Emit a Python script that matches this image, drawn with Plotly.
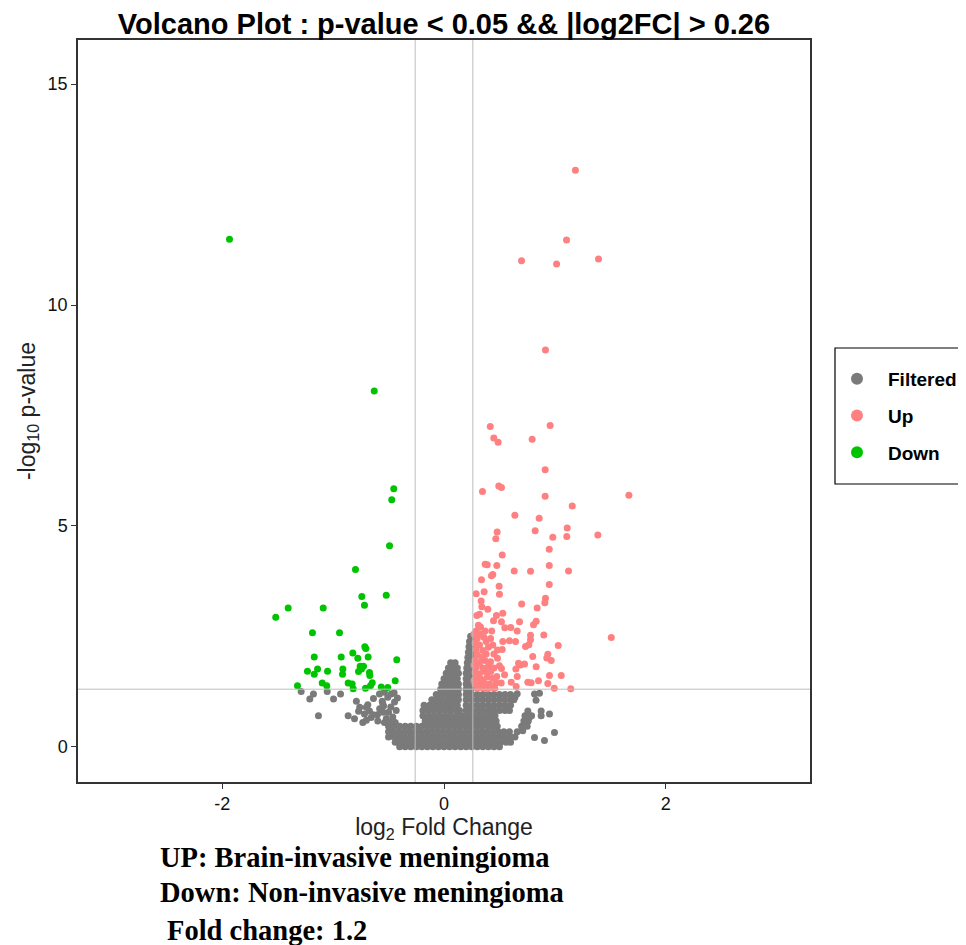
import plotly.graph_objects as go

# ---------------- data ----------------
# Down-regulated (green)
down_x = [-1.934, -0.629, -0.453, -0.471, -0.491, -0.798, -0.741, -0.521, -0.717, -1.517,
          -1.405, -1.089, -1.186, -0.942, -0.714, -0.705, -1.170, -0.927, -0.822, -0.777,
          -0.684, -0.426, -1.140, -1.231, -1.170, -1.050, -0.912, -0.915, -0.756, -0.726,
          -0.744, -0.771, -0.672, -0.669, -0.440, -1.321, -1.098, -1.057, -0.864, -0.828,
          -0.819, -0.708, -0.647, -0.663, -0.566, -0.507]
down_y = [11.49, 8.05, 5.84, 5.59, 4.55, 4.01, 3.40, 3.43, 3.20, 2.93,
          3.14, 3.14, 2.58, 2.58, 2.26, 2.22, 2.03, 2.03, 2.12, 2.00,
          2.03, 1.97, 1.76, 1.71, 1.64, 1.71, 1.76, 1.64, 1.82, 1.82,
          1.76, 1.70, 1.68, 1.61, 1.49, 1.38, 1.44, 1.38, 1.44, 1.42,
          1.31, 1.32, 1.45, 1.38, 1.35, 1.34]

# Up-regulated (red)
up_x = [1.185, 1.105, 0.699, 1.015, 1.393, 0.915, 0.417, 0.957, 0.449, 0.488,
        0.795, 0.912, 0.347, 0.494, 0.518, 0.912, 1.667, 1.156, 0.639, 0.858,
        0.479, 0.822, 1.111, 0.467, 0.981, 1.107, 1.387, 0.949, 0.525, 0.371,
        0.390, 0.476, 0.949, 0.633, 0.780, 1.123, 0.440, 0.428, 0.338, 0.949,
        0.497, 0.290, 0.362, 0.500, 0.915, 0.909, 0.335, 0.700, 0.341, 0.395,
        0.840, 0.530, 0.473, 0.296, 0.320, 0.446, 0.518, 0.681, 0.831, 0.807,
        0.329, 0.548, 0.602, 0.660, 0.900, 0.780, 0.780, 0.765, 0.735, 1.508,
        1.030, 0.530, 0.590, 0.645, 0.525, 0.482, 0.800, 0.936, 0.927, 0.967,
        0.482, 0.672, 0.690, 0.726, 0.500, 0.518, 0.831, 0.648, 0.422, 0.546,
        0.660, 0.951, 1.057, 0.476, 0.606, 0.756, 0.786, 0.852, 0.936, 0.651,
        0.435, 0.458, 0.516, 0.994, 1.143,
        0.29, 0.33, 0.30, 0.36, 0.28, 0.32, 0.38, 0.42, 0.29, 0.35,
        0.40, 0.44, 0.30, 0.34, 0.38, 0.45, 0.28, 0.32, 0.37, 0.42,
        0.29, 0.35, 0.40, 0.45, 0.28, 0.32, 0.37, 0.30, 0.34, 0.39,
        0.44, 0.28, 0.32, 0.36, 0.41, 0.30, 0.35, 0.39, 0.47, 0.31,
        0.37, 0.43, 0.27, 0.27, 0.27]
up_y = [13.05, 11.47, 11.00, 10.93, 11.04, 8.98, 7.25, 7.27, 6.99, 6.89,
        6.96, 6.27, 5.78, 5.90, 5.87, 5.67, 5.69, 5.45, 5.24, 5.17,
        4.86, 4.89, 4.95, 4.71, 4.74, 4.76, 4.79, 4.47, 4.34, 4.13,
        4.12, 4.10, 4.10, 3.98, 3.97, 3.98, 3.90, 3.87, 3.78, 3.67,
        3.63, 3.46, 3.51, 3.45, 3.36, 3.26, 3.30, 3.23, 3.17, 3.11,
        3.14, 3.02, 2.97, 2.97, 3.00, 2.85, 2.83, 2.83, 2.84, 2.76,
        2.71, 2.69, 2.70, 2.62, 2.53, 2.52, 2.42, 2.31, 2.27, 2.47,
        2.29, 2.38, 2.40, 2.38, 2.20, 2.19, 2.04, 2.09, 2.01, 1.95,
        2.00, 1.89, 1.85, 1.87, 1.83, 1.77, 1.81, 1.76, 1.70, 1.63,
        1.59, 1.61, 1.61, 1.59, 1.46, 1.46, 1.45, 1.49, 1.43, 1.36,
        1.34, 1.32, 1.44, 1.32, 1.31,
        2.62, 2.55, 2.45, 2.48, 2.35, 2.30, 2.38, 2.45, 2.20, 2.18,
        2.25, 2.30, 2.08, 2.02, 2.10, 2.10, 1.95, 1.90, 1.95, 1.92,
        1.80, 1.78, 1.82, 1.78, 1.68, 1.65, 1.70, 1.55, 1.52, 1.58,
        1.55, 1.42, 1.40, 1.45, 1.42, 1.32, 1.33, 1.31, 1.45, 2.75,
        2.62, 2.62, 2.55, 1.85, 1.50]

# Filtered (grey) - the dense central cloud, read row by row (y level, x positions)
filtered_rows = [
    (0.00, [-0.40, -0.35, -0.30, -0.25, -0.20, -0.15, -0.10, -0.05, 0.00, 0.05, 0.10, 0.15,
            0.20, 0.25, 0.30, 0.35, 0.40, 0.45, 0.50]),
    (0.10, [-0.44, -0.39, -0.34, -0.29, -0.24, -0.19, -0.14, -0.09, -0.04, 0.01, 0.06, 0.11,
            0.16, 0.21, 0.26, 0.31, 0.36, 0.41, 0.46, 0.51, 0.56, 0.60]),
    (0.22, [-0.50, -0.45, -0.40, -0.35, -0.30, -0.25, -0.20, -0.15, -0.10, -0.05, 0.00, 0.05,
            0.10, 0.15, 0.20, 0.25, 0.30, 0.35, 0.40, 0.45, 0.50, 0.55, 0.60, 0.64]),
    (0.34, [-0.50, -0.46, -0.41, -0.36, -0.31, -0.26, -0.21, -0.16, -0.11, -0.06, -0.01, 0.04,
            0.09, 0.14, 0.19, 0.24, 0.29, 0.34, 0.39, 0.44, 0.49, 0.54, 0.59, 0.66]),
    (0.46, [-0.50, -0.45, -0.40, -0.35, -0.30, -0.25, -0.20, -0.15, -0.10, -0.05, 0.00, 0.05,
            0.10, 0.15, 0.20, 0.25, 0.30, 0.35, 0.40, 0.45, 0.48, 0.70, 0.75]),
    (0.58, [-0.17, -0.12, -0.07, -0.02, 0.03, 0.08, 0.13, 0.18, 0.23, 0.28, 0.33, 0.38,
            0.43, 0.47, 0.72, 0.76]),
    (0.70, [-0.19, -0.14, -0.09, -0.04, 0.01, 0.06, 0.11, 0.16, 0.21, 0.26, 0.31, 0.36,
            0.41, 0.46, 0.73, 0.79]),
    (0.82, [-0.19, -0.14, -0.09, -0.04, 0.01, 0.06, 0.11, 0.14, 0.20, 0.25, 0.30, 0.35,
            0.40, 0.45, 0.50, 0.55, 0.59]),
    (0.94, [-0.18, -0.13, -0.08, -0.03, 0.02, 0.07, 0.12, 0.20, 0.25, 0.30, 0.35, 0.40,
            0.45, 0.50, 0.55, 0.60]),
    (1.06, [-0.11, -0.06, -0.01, 0.04, 0.09, 0.13, 0.20, 0.25, 0.30, 0.35, 0.40, 0.45,
            0.50, 0.55, 0.60, 0.63]),
    (1.18, [-0.07, -0.02, 0.03, 0.08, 0.13, 0.20, 0.25, 0.30, 0.35, 0.40, 0.45, 0.50,
            0.55, 0.60]),
    (1.30, [-0.03, 0.01, 0.05, 0.09, 0.13, 0.20, 0.245]),
    (1.42, [-0.02, 0.02, 0.06, 0.10, 0.13, 0.20, 0.245]),
    (1.54, [0.00, 0.04, 0.08, 0.12, 0.20, 0.245]),
    (1.66, [0.02, 0.06, 0.10, 0.13, 0.20, 0.245]),
    (1.78, [0.04, 0.08, 0.12, 0.205, 0.245]),
    (1.90, [0.06, 0.10, 0.21, 0.245]),
    (2.02, [0.215, 0.245]),
    (2.14, [0.22, 0.245]),
    (2.26, [0.225, 0.245]),
    (2.38, [0.23, 0.25]),
    (2.50, [0.24]),
]
# Filtered (grey) - left band and scattered points
filtered_extra_x = [-0.79, -0.76, -0.77, -0.70, -0.687, -0.717, -0.672, -0.657, -0.636, -0.597,
                    -0.60, -0.58, -0.557, -0.545, -0.552, -0.537, -0.537, -0.582, -0.507, -0.476,
                    -0.446, -0.431, -0.462, -0.48, -0.50, -0.52, -0.45, -0.42, -0.44, -0.49,
                    -0.55, -0.732, -0.70, -0.64,
                    -1.288, -1.21, -1.177, -1.053, -0.996, -0.933, -1.132, -0.864, -0.807,
                    0.816, 0.83, 0.861, 0.876, 0.876, 0.951, 0.71, 0.816, 0.906, 0.996,
                    0.756, 0.77, 0.64, 0.66]
filtered_extra_y = [1.03, 0.89, 0.80, 0.89, 0.95, 0.74, 0.81, 0.66, 1.09, 0.58,
                    0.72, 0.86, 1.03, 0.92, 0.97, 0.55, 1.23, 1.19, 1.12, 1.19,
                    1.01, 0.82, 0.67, 0.90, 0.78, 0.64, 1.22, 1.10, 0.55, 0.55,
                    0.78, 0.55, 0.60, 0.72,
                    1.25, 1.08, 1.19, 1.25, 1.08, 1.19, 0.70, 0.70, 0.63,
                    1.19, 1.05, 1.21, 0.81, 0.70, 0.74, 0.36, 0.21, 0.14, 0.32,
                    0.81, 0.66, 1.12, 1.20]

x_ticks = [-2, 0, 2]
x_tick_labels = ["-2", "0", "2"]
y_ticks = [0, 5, 10, 15]
y_tick_labels = ["0", "5", "10", "15"]
fc_cut = 0.26
p_cut = 1.30103  # -log10(0.05)

filt_x, filt_y = [], []
for yy, xs in filtered_rows:
    filt_x.extend(xs)
    filt_y.extend([yy] * len(xs))
filt_x += filtered_extra_x
filt_y += filtered_extra_y

# ---------------- figure ----------------
GREY = "#7a7a7a"
RED = "#ff8080"
GREEN = "#00c400"
msize = 7

fig = go.Figure()
fig.add_trace(go.Scatter(x=filt_x, y=filt_y, mode="markers", name="Filtered",
                         legendgroup="f",
                         marker=dict(color=GREY, size=msize, line=dict(width=0))))
fig.add_trace(go.Scatter(x=up_x, y=up_y, mode="markers", name="Up", legendgroup="u",
                         marker=dict(color=RED, size=msize, line=dict(width=0))))
fig.add_trace(go.Scatter(x=down_x, y=down_y, mode="markers", name="Down", legendgroup="d",
                         marker=dict(color=GREEN, size=msize, line=dict(width=0))))

line_style = dict(color="#bdbdbd", width=1)
for v in (-fc_cut, fc_cut):
    fig.add_shape(type="line", xref="x", yref="paper", x0=v, x1=v, y0=0, y1=1,
                  line=line_style, layer="above")
fig.add_shape(type="line", xref="paper", yref="y", x0=0, x1=1, y0=p_cut, y1=p_cut,
              line=line_style, layer="above")

# page is shown with an 8px body margin; positions below are in screen pixels
W, H = 958, 937
OFF = 8
L, T = 70, 32
PW, PH = 732, 742
R, B = W - L - PW, H - T - PH

def px_x(p):
    return (p - OFF - L) / PW

def px_y(p):
    return (T + PH - (p - OFF)) / PH

# legend frame
fig.add_shape(type="rect", xref="paper", yref="paper",
              x0=px_x(835), x1=px_x(962), y0=px_y(348), y1=px_y(484),
              line=dict(color="black", width=1.2), fillcolor="rgba(0,0,0,0)", layer="above")

notes = [("UP: Brain-invasive meningioma", 158, 857),
         ("Down: Non-invasive meningioma", 158, 892),
         ("Fold change: 1.2", 165, 930)]
for txt, xx, yy in notes:
    fig.add_annotation(text="<b>" + txt + "</b>", xref="paper", yref="paper",
                       x=px_x(xx), y=px_y(yy), xanchor="left", yanchor="middle",
                       showarrow=False,
                       font=dict(family="Liberation Serif", size=28.5, color="black"))

fig.update_layout(
    width=W, height=H,
    margin=dict(l=L, r=R, t=T, b=B, autoexpand=False),
    paper_bgcolor="white", plot_bgcolor="white",
    font=dict(family="Liberation Sans", color="black"),
    title=dict(text="<b>Volcano Plot : p-value &lt; 0.05 &amp;&amp; |log2FC| &gt; 0.26</b>",
               x=px_x(444), xref="paper", xanchor="center",
               y=1 - (24 - OFF) / H, yref="container", yanchor="middle",
               font=dict(size=29, family="Liberation Sans", color="black")),
    legend=dict(x=px_x(826), y=px_y(360), xanchor="left", yanchor="top",
                borderwidth=0, bgcolor="rgba(0,0,0,0)",
                tracegroupgap=9, itemwidth=52,
                font=dict(size=19, family="Liberation Sans", color="black", weight="bold"),
                itemsizing="constant"),
    showlegend=True,
)
fig.update_xaxes(range=[-3.3, 3.3], tickvals=x_ticks, ticktext=x_tick_labels,
                 ticks="outside", ticklen=5,
                 tickwidth=1.2, tickcolor="#333333", showgrid=False, zeroline=False,
                 showline=True, linecolor="#333333", linewidth=1.5, mirror=True,
                 tickfont=dict(size=18, color="#111111"),
                 title=dict(text="log<sub>2</sub> Fold Change", standoff=6,
                            font=dict(size=23, color="#222222")))
fig.update_yaxes(range=[-0.8, 16.0], tickvals=y_ticks, ticktext=y_tick_labels,
                 ticks="outside", ticklen=5,
                 tickwidth=1.2, tickcolor="#333333", showgrid=False, zeroline=False,
                 showline=True, linecolor="#333333", linewidth=1.5, mirror=True,
                 tickfont=dict(size=18, color="#111111"),
                 title=dict(text="-log<sub>10</sub> p-value", standoff=6,
                            font=dict(size=23, color="#222222")))

fig.write_html("out.html")
